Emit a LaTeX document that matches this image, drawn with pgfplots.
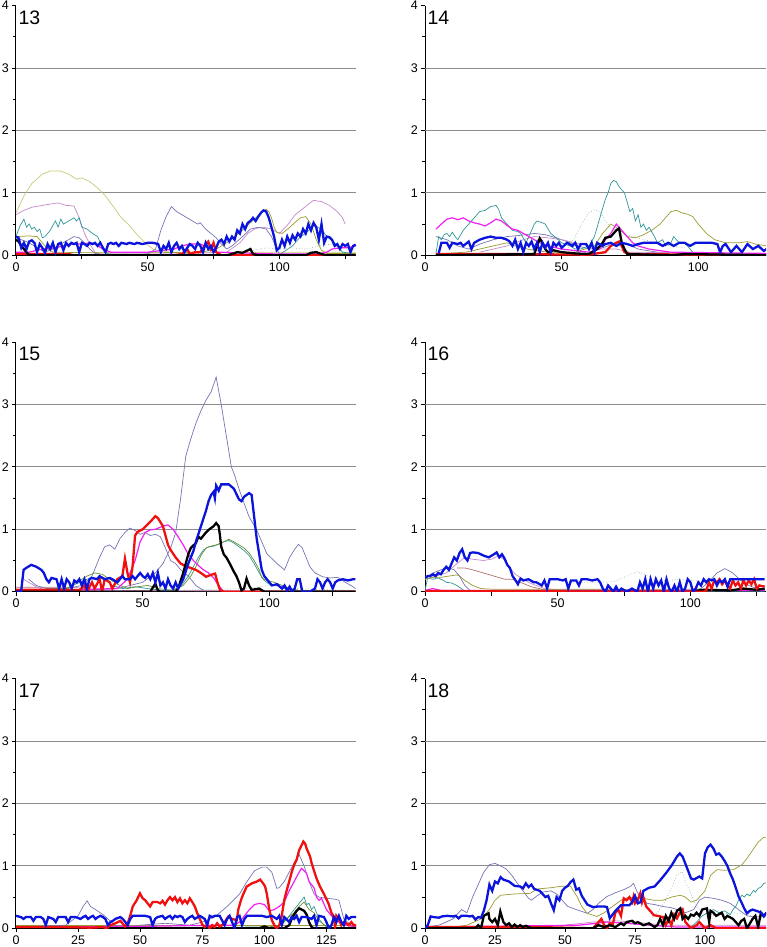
\documentclass[border=0pt]{standalone}
\usepackage{pgfplots}
\pgfplotsset{compat=1.18}
\usepackage{fontspec}
\setmainfont{Liberation Sans}
\definecolor{cblue}{HTML}{0A14DC}
\definecolor{cred}{HTML}{F01010}
\definecolor{ckhaki}{HTML}{C8C878}
\definecolor{colive}{HTML}{9A9A30}
\definecolor{cslate}{HTML}{7474B4}
\definecolor{cmag}{HTML}{F020F0}
\definecolor{cteal}{HTML}{2E9696}
\definecolor{cplum}{HTML}{C488C8}
\definecolor{cgreen}{HTML}{6E8E2E}
\definecolor{cdot}{HTML}{9CB89C}
\definecolor{cbrown}{HTML}{B07070}
\definecolor{cgrid}{HTML}{8C8C8C}
\tikzset{
  thn/.style={line width=0.7pt},
  thk/.style={line width=2.3pt},
  plab/.style={anchor=north west, inner sep=0pt, font=\fontsize{19.5}{22}\selectfont}
}
\pgfplotsset{
  panel/.style={scale only axis, height=249.6pt, ymin=0, ymax=4, xmin=0,
    axis x line=bottom, axis y line=left, axis line style={-, black, line width=1pt},
    ytick={0,1,2,3,4}, minor ytick={0.5,1.5,2.5,3.5},
    extra y ticks={1,2,3}, extra y tick labels={},
    extra y tick style={grid=major, major tick length=0pt},
    grid style={cgrid, line width=0.8pt},
    tick align=outside, major tick length=4pt, minor tick length=3pt,
    tick style={black, line width=0.8pt},
    /pgf/number format/assume math mode=true,
    ticklabel style={font=\fontsize{12.5}{14}\selectfont},
    yticklabel style={anchor=east, inner sep=0pt, xshift=-3pt},
    xticklabel style={anchor=north, inner sep=0pt, yshift=-3pt},
    no markers, clip mode=individual},
  xa/.style={xtick={0,25,50,75,100,125}, xticklabels={0,,50,,100,}},
  xb/.style={xtick={0,25,50,75,100,125}, xticklabels={0,25,50,75,100,125}}
}
\begin{document}
\begin{tikzpicture}
\path[use as bounding box] (0,0) rectangle (766pt,947pt);
% ---------------- 13 ----------------
\begin{axis}[panel, xa, width=340pt, xmax=129.1, at={(16pt,691.7pt)}, anchor=south west]
\addplot[ckhaki,thn] coordinates {(0,0.68)(3,0.95)(6,1.15)(10,1.3)(13,1.35)(17,1.35)(20,1.3)(23,1.22)(25,1.24)(28,1.18)(31,1.08)(34,0.95)(37,0.78)(40,0.6)(43,0.48)(46,0.33)(49,0.2)(52,0.1)(55,0.06)(60,0.05)(129,0.05)};
\addplot[cplum,thn] coordinates {(0,0.65)(3,0.72)(6,0.77)(10,0.8)(13,0.82)(16,0.84)(19,0.8)(22,0.79)(24,0.6)(26,0.35)(28,0.18)(30,0.05)(32,0.02)(60,0.02)(80,0.05)(85,0.2)(88,0.35)(91,0.43)(94,0.45)(97,0.42)(100,0.35)(103,0.48)(106,0.65)(109,0.75)(112,0.85)(113,0.88)(116,0.86)(119,0.8)(122,0.7)(124,0.6)(125,0.5)};
\addplot[cslate,thn] coordinates {(0,0.28)(2,0.25)(5,0.2)(8,0.12)(11,0.05)(14,0.1)(17,0.18)(20,0.25)(22,0.3)(24,0.28)(26,0.2)(28,0.1)(30,0.03)(33,0.01)(50,0.02)(53,0.1)(55,0.4)(57,0.62)(59,0.78)(61,0.7)(63,0.65)(65,0.6)(67,0.55)(69,0.5)(70,0.52)(72,0.42)(74,0.35)(76,0.28)(78,0.18)(80,0.1)(82,0.15)(86,0.3)(89,0.42)(92,0.45)(95,0.42)(97,0.3)(99,0.1)(100,0.02)(110,0.02)};
\addplot[cteal,thn] coordinates {(0,0.3)(1.5,0.47)(3,0.58)(4,0.45)(5,0.5)(6,0.42)(7,0.45)(8,0.38)(9,0.42)(10,0.28)(11,0.3)(12,0.35)(13,0.4)(14,0.48)(15,0.55)(16,0.45)(17,0.58)(18,0.5)(20,0.55)(22,0.6)(23,0.55)(24,0.6)(25,0.45)(27,0.42)(29,0.35)(31,0.3)(33,0.1)(35,0.02)(50,0.01)(100,0.01)(105,0.15)(108,0.3)(110,0.35)(113,0.48)(116,0.42)(118,0.3)(121,0.2)(124,0.05)(129,0.02)};
\addplot[colive,thn] coordinates {(0,0.3)(5,0.31)(8,0.3)(10,0.2)(12,0.1)(14,0.05)(30,0.04)(50,0.04)(70,0.05)(76,0.1)(80,0.2)(84,0.33)(88,0.48)(91,0.6)(93,0.68)(95,0.74)(96,0.7)(97,0.6)(98,0.45)(99,0.37)(101,0.35)(104,0.45)(106,0.53)(108,0.6)(110,0.62)(112,0.5)(114,0.25)(116,0.08)(118,0.03)(129,0.03)};
\addplot[cdot,thn,dotted] coordinates {(80,0.02)(90,0.08)(95,0.12)(100,0.1)(105,0.12)(110,0.1)(115,0.15)(120,0.18)(125,0.12)(129,0.1)};
\addplot[cmag,line width=1.2pt] coordinates {(0,0.05)(5,0.05)(10,0.1)(15,0.12)(18,0.15)(20,0.17)(22,0.18)(25,0.18)(28,0.2)(30,0.18)(33,0.1)(36,0.05)(50,0.05)(60,0.1)(63,0.15)(66,0.18)(70,0.18)(73,0.12)(76,0.05)(100,0.02)(115,0.02)(118,0.05)(120,0.1)(123,0.12)(126,0.12)(129,0.15)};
\addplot[cred,thk] coordinates {(0,0.02)(20,0.02)(22,0.0)(60,0.0)(63,0.02)(65,0.1)(66,0.02)(68,0.05)(70,0.05)(72,0.18)(73,0.22)(74,0.1)(75,0.2)(76,0.05)(78,0.0)(129,0.0)};
\addplot[black,thk] coordinates {(0,0.25)(1,0.22)(2,0.15)(3,0.1)(4,0.05)(5,0)(80,0)(82,0.02)(84,0.05)(86,0.04)(88,0.08)(89,0.1)(90,0.02)(92,0.0)(110,0.0)(112,0.04)(114,0.05)(116,0.02)(118,0)(129,0)};
\addplot[cblue,thk] coordinates {(0,0.3)(1,0.28)(2,0.12)(3,0.2)(4,0.1)(5,0.22)(6,0.24)(7,0.2)(8,0.05)(9,0.18)(10,0.12)(11,0.04)(12,0.18)(13,0.1)(14,0.2)(15,0.05)(16,0.18)(17,0.2)(18,0.08)(19,0.2)(20,0.15)(21,0.2)(22,0.18)(23,0.2)(24,0.05)(25,0.2)(26,0.18)(27,0.15)(28,0.2)(29,0.18)(30,0.2)(31,0.15)(32,0.2)(33,0.12)(34,0.05)(35,0.18)(36,0.2)(37,0.18)(38,0.2)(39,0.15)(40,0.2)(42,0.18)(43,0.2)(45,0.18)(46,0.2)(48,0.18)(50,0.2)(52,0.2)(54,0.18)(55,0.05)(56,0.15)(57,0.1)(58,0.2)(59,0.05)(60,0.15)(61,0.2)(62,0.1)(63,0.15)(64,0.05)(65,0.12)(66,0.18)(67,0.15)(68,0.1)(69,0.2)(70,0.15)(71,0.05)(72,0.2)(73,0.1)(74,0.15)(75,0.05)(76,0.12)(77,0.22)(78,0.25)(79,0.18)(80,0.3)(81,0.22)(82,0.3)(83,0.25)(84,0.4)(85,0.35)(86,0.5)(87,0.42)(88,0.52)(89,0.55)(90,0.6)(91,0.55)(92,0.62)(93,0.68)(94,0.72)(95,0.7)(96,0.6)(97,0.45)(98,0.3)(99,0.08)(100,0.12)(101,0.25)(102,0.15)(103,0.3)(104,0.2)(105,0.32)(106,0.25)(107,0.35)(108,0.3)(109,0.42)(110,0.35)(111,0.5)(112,0.4)(113,0.52)(114,0.45)(115,0.25)(116,0.5)(117,0.2)(118,0.3)(119,0.29)(120,0.25)(121,0.15)(122,0.18)(123,0.1)(124,0.18)(125,0.15)(126,0.18)(127,0.05)(128,0.15)(129,0.17)};
\node[plab] at (rel axis cs:0,1) [xshift=2.3pt,yshift=-5pt] {13};
\end{axis}
% ---------------- 14 ----------------
\begin{axis}[panel, xa, width=341pt, xmax=124.8, at={(425pt,691.7pt)}, anchor=south west]
\addplot[cslate,thn] coordinates {(4,0.3)(8,0.25)(12,0.15)(16,0.1)(20,0.18)(25,0.25)(30,0.3)(35,0.32)(40,0.35)(44,0.33)(48,0.28)(52,0.22)(56,0.15)(60,0.1)(65,0.12)(70,0.2)(74,0.18)(78,0.1)(85,0.05)(125,0.02)};
\addplot[cplum,thn] coordinates {(20,0.05)(30,0.15)(36,0.25)(40,0.3)(45,0.28)(50,0.25)(55,0.2)(60,0.15)(65,0.1)(70,0.1)(75,0.05)(125,0.02)};
\addplot[cdot,thn,dotted] coordinates {(50,0.05)(52,0.1)(55,0.3)(58,0.55)(60,0.68)(62,0.73)(64,0.7)(66,0.55)(68,0.45)(72,0.35)(76,0.3)(80,0.25)(85,0.2)(90,0.15)(95,0.12)};
\addplot[colive,thn] coordinates {(4,0.02)(15,0.05)(20,0.1)(25,0.15)(30,0.2)(35,0.12)(40,0.08)(45,0.05)(55,0.05)(62,0.15)(65,0.35)(68,0.5)(71,0.42)(74,0.3)(77,0.28)(80,0.33)(83,0.4)(86,0.5)(88,0.6)(90,0.7)(92,0.72)(94,0.68)(96,0.66)(98,0.62)(100,0.5)(103,0.35)(106,0.25)(110,0.2)(115,0.2)(118,0.22)(121,0.18)(125,0.15)};
\addplot[cteal,thn] coordinates {(4,0.02)(5,0.3)(6,0.25)(7,0.33)(8,0.35)(9,0.3)(10,0.37)(11,0.3)(12,0.25)(14,0.4)(16,0.5)(18,0.6)(19,0.65)(20,0.7)(22,0.72)(24,0.78)(26,0.8)(27,0.73)(28,0.6)(30,0.5)(31,0.45)(32,0.4)(34,0.38)(35,0.35)(37,0.2)(38,0.3)(40,0.5)(41,0.55)(43,0.52)(44,0.5)(46,0.35)(48,0.28)(50,0.2)(53,0.15)(55,0.1)(57,0.1)(60,0.15)(62,0.3)(64,0.6)(66,0.9)(67,1.0)(68,1.15)(69,1.2)(70,1.18)(71,1.1)(72,1.05)(73,1.0)(74,0.85)(75,0.7)(76,0.75)(77,0.55)(78,0.65)(79,0.45)(80,0.5)(81,0.4)(82,0.45)(84,0.3)(85,0.2)(87,0.25)(88,0.15)(90,0.2)(91,0.3)(93,0.2)(95,0.2)(97,0.1)(99,0.0)(125,0.0)};
\addplot[cmag,line width=1.2pt] coordinates {(4,0.42)(6,0.5)(8,0.58)(10,0.6)(12,0.57)(14,0.6)(16,0.55)(18,0.52)(20,0.5)(22,0.47)(24,0.52)(26,0.58)(28,0.55)(30,0.48)(32,0.42)(34,0.4)(36,0.35)(38,0.3)(40,0.25)(42,0.2)(45,0.15)(50,0.1)(60,0.05)(64,0.1)(66,0.25)(68,0.35)(70,0.5)(72,0.4)(74,0.3)(76,0.2)(78,0.15)(82,0.1)(90,0.05)(125,0.03)};
\addplot[cred,thk] coordinates {(4,0.02)(30,0.02)(60,0.01)(66,0.05)(68,0.15)(70,0.2)(71,0.22)(72,0.15)(73,0.05)(75,0.02)(125,0.0)};
\addplot[black,thk] coordinates {(4,0.0)(40,0.02)(41,0.15)(42,0.27)(43,0.2)(44,0.1)(45,0.05)(47,0.08)(50,0.05)(55,0.03)(60,0.02)(63,0.1)(65,0.2)(66,0.28)(68,0.3)(70,0.4)(71,0.43)(72,0.2)(73,0.1)(74,0.02)(90,0.0)(95,0.02)(125,0.0)};
\addplot[cblue,thk] coordinates {(5,0.03)(6,0.2)(8,0.2)(9,0.12)(10,0.2)(12,0.18)(13,0.2)(14,0.15)(16,0.22)(17,0.1)(18,0.2)(20,0.25)(22,0.28)(24,0.3)(26,0.28)(28,0.28)(30,0.25)(31,0.22)(32,0.15)(33,0.25)(34,0.1)(35,0.2)(36,0.05)(37,0.2)(38,0.15)(39,0.22)(40,0.1)(41,0.2)(42,0.05)(43,0.2)(44,0.12)(45,0.2)(46,0.05)(47,0.2)(48,0.15)(49,0.2)(50,0.12)(52,0.2)(54,0.15)(55,0.2)(56,0.1)(57,0.18)(59,0.18)(60,0.1)(61,0.2)(62,0.05)(63,0.2)(65,0.15)(66,0.18)(68,0.2)(70,0.15)(72,0.2)(74,0.18)(76,0.15)(78,0.18)(80,0.2)(85,0.2)(87,0.15)(89,0.2)(91,0.15)(93,0.2)(95,0.2)(97,0.15)(99,0.2)(105,0.2)(107,0.18)(108,0.05)(109,0.15)(110,0.18)(112,0.05)(114,0.15)(116,0.05)(118,0.18)(120,0.1)(122,0.15)(124,0.07)(125,0.1)};
\node[plab] at (rel axis cs:0,1) [xshift=2.3pt,yshift=-5pt] {14};
\end{axis}
% ---------------- 15 ----------------
\begin{axis}[panel, xa, width=340pt, xmax=134.2, at={(16pt,355.3pt)}, anchor=south west]
\addplot[cbrown,thn] coordinates {(0,0.07)(5,0.07)(10,0.07)(20,0.07)(25,0.06)(30,0.04)(40,0.02)(134,0.01)};
\addplot[cplum,thn] coordinates {(3,0.2)(5,0.15)(8,0.08)(12,0.02)(134,0.01)};
\addplot[cdot,thn,dotted] coordinates {(60,0.02)(90,0.05)(100,0.1)(110,0.05)(134,0.02)};
\addplot[cslate,thn] coordinates {(5,0.2)(8,0.1)(12,0.05)(20,0.05)(26,0.1)(30,0.25)(33,0.55)(35,0.72)(37,0.75)(39,0.68)(41,0.85)(43,0.95)(45,1.02)(47,0.98)(49,0.92)(51,0.95)(53,0.9)(55,0.92)(57,0.88)(59,0.7)(61,0.5)(63,0.45)(65,0.35)(68,0.25)(71,0.1)(74,0.02)};
\addplot[cslate,thn] coordinates {(0,0)(20,0.02)(40,0.05)(50,0.15)(55,0.3)(58,0.45)(61,0.7)(63,0.94)(65,1.5)(67,2.17)(69,2.45)(71,2.7)(73,2.9)(75,3.07)(77,3.2)(79,3.44)(81,3.0)(83,2.5)(85,2.0)(86,1.9)(88,1.65)(90,1.42)(92,1.2)(95,0.99)(97,0.8)(99,0.61)(103,0.45)(106,0.35)(108,0.55)(110,0.68)(111.5,0.76)(113,0.7)(116,0.4)(118,0.3)(121,0.24)(124,0.22)(127,0.23)(130,0.15)(133,0.08)(134,0.05)};
\addplot[cteal,thn] coordinates {(0,0.02)(20,0.05)(25,0.15)(28,0.2)(32,0.22)(35,0.2)(38,0.1)(42,0.05)(47,0.08)(52,0.05)(58,0.02)(62,0.03)(65,0.08)(68,0.25)(70,0.4)(72,0.55)(74,0.67)(76,0.72)(78,0.73)(80,0.76)(82,0.8)(84,0.82)(86,0.78)(88,0.72)(90,0.66)(92,0.58)(94,0.45)(96,0.3)(98,0.18)(100,0.12)(103,0.1)(106,0.05)(110,0.02)(134,0.01)};
\addplot[cgreen,thn] coordinates {(0,0.02)(20,0.05)(24,0.15)(28,0.25)(31,0.3)(34,0.28)(37,0.2)(40,0.12)(44,0.05)(48,0.08)(52,0.1)(56,0.05)(62,0.02)(66,0.1)(69,0.25)(71,0.4)(73,0.58)(75,0.7)(77,0.73)(79,0.75)(81,0.78)(83,0.82)(84,0.84)(86,0.8)(88,0.75)(90,0.7)(92,0.62)(94,0.5)(96,0.35)(97,0.22)(99,0.18)(102,0.15)(105,0.1)(108,0.05)(112,0.02)(134,0.01)};
\addplot[cmag,line width=1.2pt] coordinates {(0,0.01)(40,0.05)(44,0.2)(47,0.5)(49,0.8)(51,0.95)(53,0.99)(55,1.0)(58,1.05)(60,1.07)(62,1.0)(64,0.88)(66,0.75)(68,0.6)(70,0.5)(72,0.42)(74,0.35)(76,0.3)(78,0.22)(80,0.1)(82,0)(134,0)};
\addplot[cred,thk] coordinates {(0,0.03)(22,0.03)(25,0.02)(27,0.1)(28,0.0)(30,0.15)(31,0.05)(33,0.2)(34,0.0)(35,0.2)(37,0.15)(38,0.05)(40,0.2)(42,0.25)(43,0.53)(44,0.3)(45,0.15)(46,0.4)(47,0.9)(48,0.96)(50,1.0)(53,1.12)(55,1.21)(56,1.18)(58,1.05)(60,0.75)(61,0.67)(63,0.55)(65,0.45)(67,0.41)(69,0.38)(71,0.35)(73,0.3)(75,0.24)(77,0.27)(78.6,0.29)(79.5,0.15)(80.5,0.03)(82,0)(134,0)};
\addplot[black,thk] coordinates {(0,0)(53,0)(55,0.13)(56,0.02)(57,0)(63,0)(64,0.05)(66,0.3)(67,0.45)(68,0.6)(69,0.7)(71,0.78)(72,0.88)(73,0.85)(75,0.95)(76,0.99)(78,1.05)(79,1.1)(80,1.05)(80.5,0.9)(81,0.72)(82,0.6)(83,0.55)(84,0.48)(85,0.4)(86,0.32)(87,0.25)(88,0.15)(89,0.02)(90,0.05)(91,0.21)(92,0.1)(93,0.03)(96,0.05)(98,0)(134,0)};
\addplot[cblue,thk] coordinates {(0,0)(2,0)(3,0.35)(4,0.38)(6,0.43)(8,0.4)(10,0.35)(11,0.3)(12,0.2)(13,0.15)(14,0.22)(16,0.2)(17,0.05)(18,0.2)(19,0.05)(20,0.2)(21,0.15)(22,0.05)(23,0.18)(24,0.15)(25,0.2)(26,0.1)(27,0.2)(28,0.05)(29,0.2)(30,0.22)(32,0.2)(33,0.25)(35,0.2)(37,0.22)(38,0.2)(40,0.15)(41,0.2)(42,0.25)(43,0.2)(45,0.2)(46,0.25)(47,0.2)(48,0.25)(49,0.3)(50,0.25)(51,0.22)(52,0.28)(53,0.2)(54,0.3)(55,0.15)(56,0.3)(57,0.1)(58,0.15)(59,0.05)(60,0.2)(61,0.1)(62,0.05)(63,0.15)(64,0.05)(66,0.2)(68,0.45)(70,0.65)(71,0.8)(73,1.05)(75,1.3)(76,1.45)(77,1.55)(78,1.6)(78.5,1.5)(79,1.7)(80,1.62)(81,1.72)(84,1.72)(86,1.65)(88,1.48)(89,1.45)(90,1.52)(92,1.58)(93,1.55)(94,1.2)(95,0.85)(96,0.6)(97,0.35)(98,0.25)(100,0.15)(101,0.1)(103,0.12)(105,0.05)(106,0.1)(107,0.02)(108,0.08)(109,0.0)(110,0.05)(111,0.2)(112,0.2)(113,0.0)(116,0.0)(118,0.05)(119,0.2)(120,0.15)(121,0.05)(122,0.15)(123,0.2)(124,0.15)(125,0.05)(126,0.15)(127,0.18)(129,0.2)(131,0.18)(133,0.2)(134,0.2)};
\node[plab] at (rel axis cs:0,1) [xshift=2.3pt,yshift=-5pt] {15};
\end{axis}
% ---------------- 16 ----------------
\begin{axis}[panel, xa, width=341pt, xmax=128.5, at={(425pt,355.3pt)}, anchor=south west]
\addplot[cplum,thn] coordinates {(0,0.2)(8,0.3)(12,0.45)(15,0.55)(18,0.52)(22,0.5)(25,0.52)(28,0.58)(30,0.5)(32,0.38)(34,0.28)(37,0.2)(40,0.13)(45,0.05)(50,0.03)(128,0.02)};
\addplot[cbrown,thn] coordinates {(12,0.38)(15,0.38)(18,0.35)(22,0.3)(26,0.25)(30,0.2)(33,0.2)(36,0.15)(40,0.08)(45,0.03)(128,0.02)};
\addplot[cteal,thn] coordinates {(0,0.02)(1,0.22)(3,0.2)(5,0.22)(7,0.18)(8,0.15)(10,0.14)(12,0.1)(14,0.04)(15,0.01)(20,0)(128,0)};
\addplot[colive,thn] coordinates {(0,0.2)(3,0.23)(6,0.23)(9,0.25)(12,0.27)(13,0.25)(15,0.18)(18,0.1)(21,0.05)(25,0.04)(35,0.04)(50,0.04)(70,0.04)(90,0.04)(110,0.04)(128,0.03)};
\addplot[cslate,thn] coordinates {(0,0.22)(3,0.3)(6,0.35)(9,0.38)(11,0.35)(13,0.25)(15,0.1)(17,0.02)(20,0)(100,0.02)(104,0.05)(107,0.16)(110,0.3)(113,0.37)(116,0.3)(119,0.18)(122,0.1)(125,0.05)(128,0.03)};
\addplot[cdot,thn,dotted] coordinates {(55,0.15)(60,0.15)(65,0.15)(71,0.16)(76,0.25)(80,0.32)(84,0.25)(88,0.17)(92,0.18)(96,0.2)(100,0.18)(105,0.16)(110,0.12)(128,0.1)};
\addplot[cmag,line width=1.2pt] coordinates {(0,0.02)(3,0.05)(6,0.02)(128,0.02)};
\addplot[black,thk] coordinates {(0,0)(100,0)(105,0.03)(115,0.02)(120,0.05)(125,0.03)(128,0.05)};
\addplot[cred,thk] coordinates {(0,0.01)(105,0.0)(106,0.02)(107,0.15)(108,0.05)(109,0.18)(110,0.15)(111,0.2)(112,0.12)(113,0.18)(114,0.1)(115,0.05)(116,0.18)(117,0.1)(118,0.15)(119,0.05)(120,0.18)(121,0.1)(122,0.18)(123,0.12)(124,0.2)(125,0.05)(126,0.1)(128,0.08)};
\addplot[cblue,thk] coordinates {(0,0.22)(1,0.25)(2,0.25)(3,0.28)(4,0.25)(5,0.3)(6,0.28)(7,0.35)(8,0.4)(9,0.35)(10,0.45)(11,0.55)(12,0.5)(13,0.62)(14,0.68)(15,0.55)(16,0.5)(17,0.62)(18,0.63)(20,0.62)(22,0.58)(24,0.55)(26,0.6)(27,0.63)(28,0.55)(29,0.6)(30,0.53)(31,0.43)(32,0.38)(33,0.25)(34,0.19)(35,0.12)(36,0.21)(37,0.18)(39,0.2)(41,0.15)(42,0.15)(44,0.1)(45,0.18)(46,0.05)(47,0.2)(50,0.2)(52,0.18)(53,0.2)(54,0.05)(55,0.18)(57,0.18)(58,0.1)(59,0.2)(61,0.2)(63,0.18)(65,0.2)(66,0.15)(67,0.05)(68,0.0)(69,0.1)(70,0.05)(71,0.0)(72,0.08)(73,0.0)(74,0.05)(76,0.0)(78,0.05)(80,0.0)(81,0.15)(82,0.05)(83,0.2)(84,0.0)(85,0.2)(86,0.05)(87,0.2)(88,0.1)(89,0.18)(90,0.0)(91,0.2)(92,0.05)(93,0.0)(94,0.1)(95,0.0)(96,0.15)(97,0.0)(98,0.05)(99,0.2)(100,0.15)(101,0.0)(102,0.05)(103,0.15)(104,0.1)(105,0.2)(106,0.15)(107,0.2)(108,0.18)(109,0.2)(110,0.1)(111,0.18)(112,0.15)(113,0.2)(114,0.08)(115,0.2)(117,0.2)(120,0.2)(125,0.2)(128,0.2)};
\node[plab] at (rel axis cs:0,1) [xshift=2.3pt,yshift=-5pt] {16};
\end{axis}
% ---------------- 17 ----------------
\begin{axis}[panel, xb, width=340pt, xmax=136.9, at={(16pt,18.7pt)}, anchor=south west]
\addplot[colive,thn] coordinates {(0,0.05)(137,0.05)};
\addplot[cslate,thn] coordinates {(0,0.02)(20,0.05)(25,0.2)(27,0.35)(28.7,0.44)(30,0.35)(32,0.3)(35,0.22)(37,0.15)(40,0.05)(45,0.02)(50,0.05)(60,0.08)(70,0.05)(75,0.1)(78,0.15)(80,0.18)(85,0.35)(90,0.55)(93,0.75)(96,0.92)(99,0.98)(101,0.98)(103,0.9)(105,0.64)(106,0.65)(108,0.75)(110,0.9)(112,1.05)(114,1.18)(116,1.0)(118,0.75)(120,0.55)(122,0.5)(125,0.48)(128,0.47)(130,0.45)(132,0.15)(135,0.05)(137,0.03)};
\addplot[cteal,thn] coordinates {(0,0.01)(100,0.02)(105,0.0)(108,0.1)(110,0.2)(112,0.3)(114,0.4)(115,0.45)(116,0.5)(117,0.38)(118,0.4)(119,0.3)(120,0.35)(121,0.25)(122,0.15)(124,0.05)(126,0)(137,0)};
\addplot[cgreen,thn] coordinates {(100,0.01)(106,0.05)(109,0.15)(112,0.25)(114,0.35)(116,0.42)(118,0.3)(120,0.25)(122,0.12)(125,0.03)(128,0)};
\addplot[cmag,line width=1.2pt] coordinates {(0,0.02)(50,0.03)(80,0.05)(88,0.05)(90,0.1)(92,0.2)(94,0.3)(96,0.38)(98,0.4)(100,0.38)(102,0.28)(104,0.3)(106,0.35)(108,0.42)(110,0.6)(112,0.75)(114,0.9)(115,0.96)(117,0.88)(118,0.75)(120,0.65)(121,0.5)(122,0.45)(123,0.48)(125,0.3)(127,0.2)(130,0.1)(133,0.05)(137,0.02)};
\addplot[black,thk] coordinates {(0,0)(98,0)(100,0.03)(102,0)(108,0)(110,0.05)(111,0.15)(112,0.22)(113,0.28)(114,0.32)(115,0.3)(116,0.28)(117,0.22)(118,0.1)(119,0.02)(120,0)(137,0)};
\addplot[cred,thk] coordinates {(0,0.02)(20,0.02)(30,0.01)(35,0.02)(36.5,0.0)(38,0.05)(40,0.08)(42,0.12)(43.9,0.03)(45,0.08)(46,0.2)(47,0.35)(48.6,0.45)(49.9,0.56)(51,0.48)(52,0.45)(53,0.4)(54,0.35)(55,0.42)(57,0.42)(58,0.4)(59,0.44)(60,0.38)(61,0.45)(62,0.5)(63,0.45)(64,0.5)(65,0.42)(66,0.48)(67,0.4)(68,0.45)(69,0.4)(70,0.48)(71,0.42)(72,0.35)(73,0.24)(74,0.15)(75,0.06)(76,0.02)(77,0.05)(78,0.0)(79,0.05)(80,0.02)(81,0.08)(82,0.03)(83,0.05)(84,0.1)(85.5,0.19)(87,0.15)(88.9,0.13)(89.5,0.3)(90.2,0.4)(91,0.5)(92.9,0.67)(95,0.72)(97,0.75)(98.3,0.78)(99.5,0.72)(100.3,0.67)(101,0.55)(102,0.3)(103,0.13)(104.3,0.03)(105,0.0)(106,0.05)(107,0.2)(108,0.45)(109,0.61)(110,0.75)(111,0.9)(112,1.02)(113,1.1)(114,1.25)(115.7,1.39)(116.5,1.35)(117,1.28)(118.4,1.15)(119,1.05)(120,0.92)(121,0.8)(122.4,0.67)(124,0.55)(125.8,0.4)(127,0.25)(127.8,0.19)(128.5,0.03)(129,0.2)(130,0.15)(131,0.05)(132,0.1)(133,0.08)(134,0.05)(135,0.1)(136,0.05)(137,0.05)};
\addplot[cblue,thk] coordinates {(0,0.2)(1,0.19)(2,0.18)(3,0.15)(4,0.18)(5,0.18)(6,0.18)(7,0.12)(8,0.18)(9,0.18)(10,0.18)(11,0.15)(12,0.05)(13,0.18)(15,0.15)(16,0.1)(17,0.18)(18,0.18)(20,0.18)(21,0.1)(22,0.18)(24,0.18)(26,0.15)(27,0.18)(28,0.2)(29,0.15)(30,0.18)(31,0.2)(32,0.15)(33,0.18)(34,0.2)(35,0.18)(36,0.15)(37,0.05)(38,0.1)(39,0.12)(40,0.15)(42,0.18)(43,0.15)(44,0.1)(45,0.05)(46,0.15)(47,0.2)(49,0.2)(52,0.2)(54,0.18)(55,0.05)(56,0.15)(57,0.18)(59,0.2)(60,0.15)(61,0.18)(62,0.2)(63,0.15)(64,0.2)(65,0.18)(66,0.2)(67,0.18)(68,0.1)(69,0.15)(70,0.18)(71,0.2)(72,0.15)(74,0.2)(76,0.15)(77,0.05)(78,0.2)(79,0.18)(80,0.2)(82,0.2)(84,0.05)(85,0.15)(86,0.2)(87,0.1)(88,0.0)(89,0.18)(90,0.2)(91,0.05)(92,0.15)(93,0.2)(95,0.2)(97,0.2)(99,0.2)(101,0.18)(103,0.2)(105,0.15)(106,0.2)(107,0.05)(108,0.18)(110,0.1)(111,0.18)(112,0.15)(113,0.2)(114,0.1)(115,0.18)(117,0.18)(119,0.15)(120,0.2)(121,0.05)(122,0.2)(124,0.18)(125,0.1)(126,0.0)(127,0.05)(128,0.18)(129,0.1)(130,0.2)(131,0.1)(132,0.05)(133,0.2)(134,0.15)(135,0.18)(137,0.18)};
\node[plab] at (rel axis cs:0,1) [xshift=2.3pt,yshift=-5pt] {17};
\end{axis}
% ---------------- 18 ----------------
\begin{axis}[panel, xb, width=341pt, xmax=121.8, at={(425pt,18.7pt)}, anchor=south west]
\addplot[cplum,thn] coordinates {(0,0.02)(30,0.02)(50,0.05)(60,0.1)(68,0.12)(75,0.1)(85,0.05)(100,0.05)(122,0.05)};
\addplot[cslate,thn] coordinates {(0,0.02)(5,0.05)(10,0.15)(12,0.25)(13,0.3)(15,0.25)(17,0.5)(19,0.7)(21,0.9)(23,1.02)(25,1.04)(27,1.0)(29,0.95)(31,0.85)(33,0.72)(35,0.6)(37,0.48)(38,0.45)(40,0.52)(42,0.58)(45,0.6)(47,0.55)(49,0.45)(51,0.35)(54,0.3)(58,0.24)(60,0.3)(62,0.4)(65,0.51)(68,0.57)(71,0.62)(73.3,0.67)(74.5,0.72)(75.7,0.59)(77,0.5)(79.3,0.4)(82,0.38)(85,0.35)(88,0.33)(90,0.3)(93,0.25)(96,0.3)(98,0.45)(100,0.5)(103,0.48)(106,0.45)(109,0.4)(112,0.3)(115,0.2)(118,0.18)(122,0.2)};
\addplot[cdot,thn,dotted] coordinates {(80,0.1)(83,0.25)(86,0.45)(88,0.65)(90,0.85)(91.8,0.91)(93,0.75)(95,0.55)(97,0.35)(99,0.25)(102,0.2)(105,0.22)(110,0.25)(115,0.22)(120,0.18)(122,0.18)};
\addplot[colive,thn] coordinates {(0,0.02)(10,0.02)(15,0.05)(20,0.15)(23,0.3)(25,0.45)(27,0.53)(32,0.55)(37.6,0.56)(40,0.63)(45,0.65)(48,0.67)(51.9,0.68)(53,0.6)(54.3,0.51)(56,0.35)(57.9,0.24)(61.4,0.19)(64,0.25)(67,0.35)(71,0.48)(75,0.5)(78,0.48)(81.7,0.45)(85,0.45)(88,0.5)(91.2,0.53)(93,0.5)(95,0.42)(97,0.45)(100,0.6)(102,0.85)(104.3,0.94)(107,0.93)(110.2,0.94)(113.2,1.02)(115,1.12)(117,1.25)(119,1.38)(121,1.46)(122,1.46)};
\addplot[cteal,thn] coordinates {(95,0.02)(97,0.1)(99,0.2)(101,0.25)(103,0.3)(105,0.25)(107,0.28)(109,0.22)(110,0.3)(111,0.35)(112,0.45)(113.2,0.53)(114,0.5)(115,0.55)(116,0.52)(117.4,0.61)(118,0.58)(119,0.64)(120,0.66)(121,0.72)(122,0.73)};
\addplot[cmag,line width=1.2pt] coordinates {(0,0.02)(55,0.05)(65,0.1)(72,0.08)(80,0.05)(90,0.02)(122,0.02)};
\addplot[cred,thk] coordinates {(0,0.02)(20,0.02)(40,0.02)(60,0.0)(62,0.1)(63,0.15)(64,0.05)(65,0.0)(66,0.08)(67,0.05)(68,0.25)(69,0.3)(70,0.2)(71,0.48)(72,0.45)(73,0.5)(74,0.42)(74.5,0.51)(75,0.4)(76,0.45)(76.9,0.56)(77.5,0.42)(78,0.5)(79,0.35)(80,0.3)(81,0.25)(81.7,0.21)(83,0.2)(85,0.18)(86,0.05)(87,0.15)(88,0.05)(89,0.22)(90,0.16)(91,0.25)(92,0.3)(93,0.1)(94,0.05)(95,0.0)(97,0.05)(98,0.1)(99,0.05)(100,0.0)(102,0.05)(104,0.0)(122,0.0)};
\addplot[black,thk] coordinates {(0,0)(18,0)(19,0.05)(20,0.0)(21,0.2)(22.7,0.24)(23,0.15)(24,0.1)(25,0.15)(26,0.05)(26.9,0.27)(28,0.1)(29,0.05)(30,0.08)(31,0.02)(32,0.06)(33,0.02)(34,0.05)(35,0.02)(36,0.04)(38,0.0)(60,0.0)(62,0.05)(64,0.02)(66,0.05)(68,0.02)(70,0.08)(71,0.05)(72,0.1)(74,0.12)(75,0.08)(76,0.1)(78,0.05)(80,0.08)(82,0.02)(83,0.05)(84,0.15)(85,0.05)(86,0.2)(87,0.12)(88,0.25)(89,0.15)(90,0.28)(91.2,0.32)(92,0.15)(93,0.2)(94,0.15)(95,0.22)(96,0.2)(97,0.25)(98,0.2)(99,0.3)(100.7,0.32)(101.5,0.1)(102,0.28)(103,0.25)(104,0.2)(106,0.25)(107,0.15)(108,0.2)(110,0.15)(111,0.1)(112,0.05)(113,0.12)(114,0.15)(115,0.0)(117,0.15)(118,0.2)(119,0.02)(120,0.25)(121,0.2)(122,0.25)};
\addplot[cblue,thk] coordinates {(0,0.0)(1,0.05)(2,0.19)(3,0.18)(5,0.17)(6,0.19)(8,0.2)(10,0.19)(11,0.2)(12,0.16)(13,0.2)(15,0.2)(16,0.19)(17,0.2)(18,0.14)(19,0.18)(20,0.17)(21,0.28)(22,0.45)(23,0.7)(24,0.6)(25,0.75)(26,0.72)(27,0.82)(28,0.78)(30,0.75)(32,0.68)(34,0.67)(35,0.64)(36,0.72)(37,0.66)(38,0.7)(39,0.63)(41,0.6)(42,0.55)(43,0.5)(44,0.52)(45,0.4)(46,0.29)(47,0.5)(48,0.45)(49,0.6)(50,0.65)(51,0.68)(52,0.74)(53,0.78)(54,0.62)(55,0.64)(56,0.52)(57,0.45)(58,0.38)(60,0.34)(62,0.35)(64,0.35)(65,0.34)(66,0.16)(67,0.22)(68,0.28)(70,0.37)(73,0.37)(74,0.42)(75,0.52)(76,0.4)(77,0.42)(78,0.6)(80,0.65)(82,0.67)(84,0.77)(86,0.88)(88,1.0)(90,1.15)(91,1.2)(92,1.15)(94,0.92)(95,0.8)(96,0.78)(98,0.83)(99,0.8)(100,1.2)(101,1.3)(102,1.34)(103,1.28)(104,1.18)(105,1.2)(106,1.15)(107,1.08)(108,1.0)(109,0.88)(110,0.78)(111,0.65)(112,0.51)(113,0.42)(114,0.32)(115,0.24)(116,0.28)(117,0.3)(119,0.27)(120,0.25)(121,0.19)(122,0.25)};
\node[plab] at (rel axis cs:0,1) [xshift=2.3pt,yshift=-5pt] {18};
\end{axis}
\end{tikzpicture}
\end{document}
